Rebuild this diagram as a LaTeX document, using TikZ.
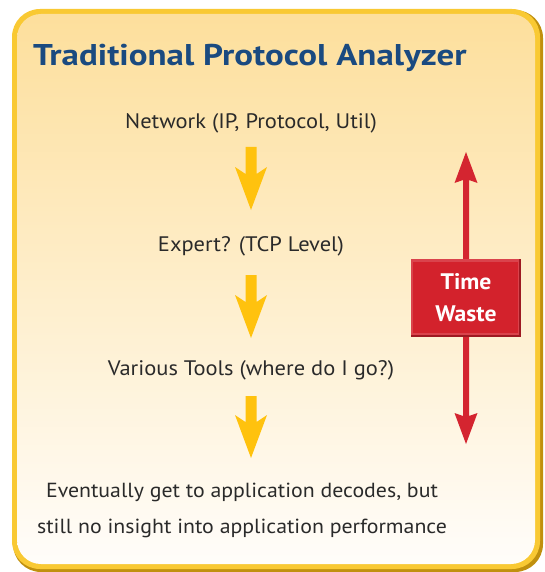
\documentclass[tikz,border=0pt]{standalone}
\usepackage{fontspec}
\setmainfont{PT Sans}
\newfontfamily\bodyfont[FakeStretch=1.07]{PT Sans}
\newfontfamily\titlefont[FakeStretch=1.165]{PT Sans Bold}
\newfontfamily\boxfont[FakeStretch=1.05]{PT Sans Bold}
\usetikzlibrary{calc}
\definecolor{titleblue}{HTML}{1A4A80}
\definecolor{txt}{HTML}{2A2A2A}
\definecolor{ygold}{HTML}{FFC20E}
\definecolor{bordery}{HTML}{F9C933}
\definecolor{borderd}{HTML}{C0900E}
\definecolor{topfill}{HTML}{FDDF9C}
\definecolor{botfill}{HTML}{FFFDFA}
\definecolor{redbox}{HTML}{D3222C}
\definecolor{redarrow}{HTML}{D42530}
\tikzset{
  body/.style={font=\bodyfont\fontsize{21}{24}\selectfont, text=txt, inner sep=0pt, anchor=base},
  bodysm/.style={body, font=\bodyfont\fontsize{20.4}{24}\selectfont},
  yarrow/.style={fill=ygold, draw=none},
  rarrow/.style={fill=redarrow, draw=none},
}
\begin{document}
\begin{tikzpicture}[x=1pt,y=-1pt]
\useasboundingbox (0,0) rectangle (544,572);
% frame
\fill[borderd, rounded corners=28pt] (13,10) rectangle (543,572);
\fill[bordery, rounded corners=28pt] (12,9) rectangle (540,569);
\shade[top color=topfill, bottom color=botfill, rounded corners=24pt] (17,14) rectangle (535,564);
% title
\node[font=\titlefont\fontsize{30}{34}\selectfont, text=titleblue, inner sep=0pt, anchor=base west] (title) at (33,66) {Traditional Protocol Analyzer};
% body texts
\node[body] (net) at (251,129) {Network (IP, Protocol, Util)};
\node[body] (exp) at (251,251) {Expert? (TCP Level)};
\node[body] (var) at (251,375) {Various Tools (where do I go?)};
\node[bodysm] (ev1) at (242,497) {Eventually get to application decodes, but};
\node[bodysm] (ev2) at (242,533) {still no insight into application performance};
% yellow arrows
\coordinate (a1) at (251,147);
\coordinate (a2) at (251,275);
\coordinate (a3) at (251,396);
\foreach \c/\h in {a1/63, a2/63, a3/62}{
  \fill[yarrow] ($(\c)+(-5.5,0)$) -- ($(\c)+(5.5,0)$) -- ($(\c)+(5.5,\h-36)$) -- ($(\c)+(16,\h-43)$)
    -- ($(\c)+(0,\h)$) -- ($(\c)+(-16,\h-43)$) -- ($(\c)+(-5.5,\h-36)$) -- cycle;
}
% red double arrow
\coordinate (rt) at (466,152);
\coordinate (rb) at (466,444);
\fill[rarrow] (rt) -- ($(rt)+(11.5,31)$) -- ($(rt)+(3,28)$) -- ($(rb)+(3,-28)$) -- ($(rb)+(11.5,-31)$)
  -- (rb) -- ($(rb)+(-11.5,-31)$) -- ($(rb)+(-3,-28)$) -- ($(rt)+(-3,28)$) -- ($(rt)+(-11.5,31)$) -- cycle;
% red box
\fill[redbox!75!black] (411,259) rectangle (521,337);
\fill[redbox!85!white] (411,259) rectangle (519,335);
\fill[redbox] (413,262) rectangle (518,333);
\node[font=\boxfont\fontsize{22.5}{32}\selectfont, text=white, align=center, inner sep=0pt] (tw) at (466,298) {Time\\Waste};
\end{tikzpicture}
\end{document}
